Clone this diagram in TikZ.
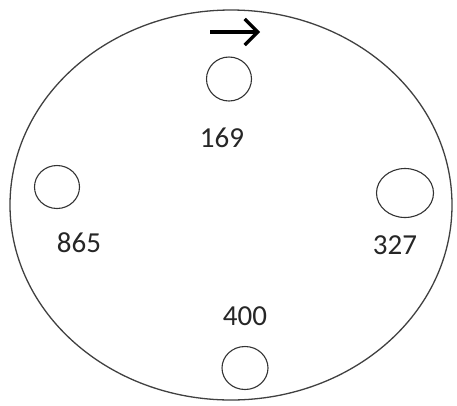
\documentclass[tikz,border=0pt]{standalone}
\usepackage{fontspec}
\setmainfont{Carlito}
\usetikzlibrary{arrows.meta,shapes.geometric}

\tikzset{
  hole/.style={draw=black!80, ellipse, inner sep=0pt, line width=1.1pt},
  num/.style={font=\fontsize{29}{34}\selectfont, text=black!85, inner sep=0pt}
}

\begin{document}
\begin{tikzpicture}[x=1pt, y=-1pt, >=Stealth, line width=1.3pt]
  \useasboundingbox (0,0) rectangle (457,405);
  % outer disc
  \draw[black!75] (231,205) ellipse [x radius=221pt, y radius=195pt];
  % holes
  \node[hole, minimum width=45pt, minimum height=44pt] (h169) at (229,79) {};
  \node[hole, minimum width=45pt, minimum height=43pt] (h865) at (57,187) {};
  \node[hole, minimum width=57pt, minimum height=49pt] (h327) at (405,193) {};
  \node[hole, minimum width=46pt, minimum height=43pt] (h400) at (245,368) {};
  % values
  \node[num] (n169) at (222,138) {169};
  \node[num] (n865) at (79,243) {865};
  \node[num] (n327) at (395,245) {327};
  \node[num] (n400) at (245,316) {400};
  % direction
  \coordinate (dirS) at (210,32);
  \coordinate (dirE) at (260,32);
  \draw[line width=3.2pt, -{Straight Barb[length=13pt, width=26pt]}] (dirS) -- (dirE);
\end{tikzpicture}
\end{document}
